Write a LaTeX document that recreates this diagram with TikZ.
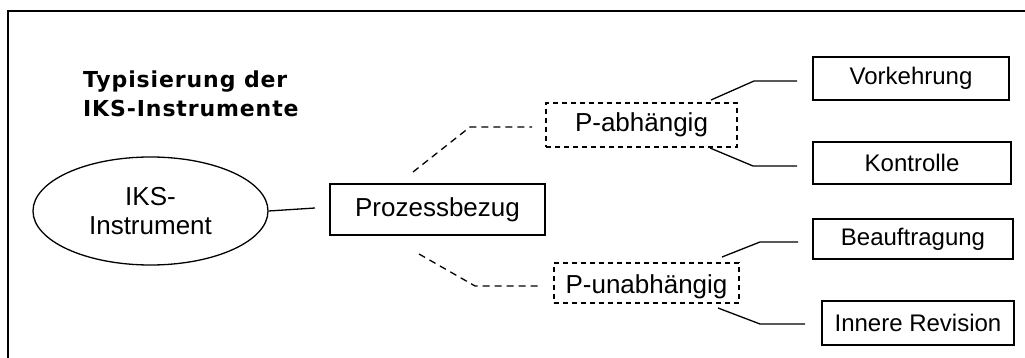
\documentclass[tikz,border=0pt]{standalone}
\usepackage{fontspec}
\setmainfont{Liberation Sans}
\newfontfamily\titlefont[LetterSpace=4]{DejaVu Sans}
\usetikzlibrary{shapes.geometric}
\begin{document}
\begin{tikzpicture}[x=1pt,y=-1pt,
  box/.style={draw,line width=1.3pt,inner sep=0pt},
  dbox/.style={draw,line width=1.3pt,dash pattern=on 5pt off 4pt,inner sep=0pt},
  link/.style={line width=1.3pt},
  dlink/.style={line width=1.3pt,dash pattern=on 7pt off 5pt}]
\useasboundingbox (0,0) rectangle (1025,358);
% open frame: only top and left edges
\draw[line width=2pt] (8,358) -- (8,11) -- (1025,11);
% title
\node[anchor=base west,align=left,inner sep=0pt,font=\titlefont\bfseries\fontsize{22}{29}\selectfont]
  (title) at (83,117) {Typisierung der\\IKS-Instrumente};
% main nodes
\node[draw,line width=1.3pt,ellipse,minimum width=235pt,minimum height=108pt,inner sep=0pt,
  align=center,font=\fontsize{26}{29}\selectfont] (iks) at (150.5,211) {IKS-\\Instrument};
\node[box,minimum width=215pt,minimum height=51pt,font=\fontsize{26}{29}\selectfont]
  (pb) at (437.5,209.5) {Prozessbezug};
\node[dbox,minimum width=191pt,minimum height=44pt,font=\fontsize{26}{29}\selectfont]
  (pa) at (641.5,125) {P-abhängig};
\node[dbox,minimum width=185pt,minimum height=40pt,font=\fontsize{26}{29}\selectfont,text depth=0pt]
  (pu) at (646.5,283) {\raisebox{-3pt}{P-unabhängig}};
% leaf nodes
\node[box,minimum width=196pt,minimum height=43pt,font=\fontsize{24}{28}\selectfont]
  (vk) at (911,78.5) {Vorkehrung};
\node[box,minimum width=198pt,minimum height=42pt,font=\fontsize{24}{28}\selectfont]
  (ko) at (912,163) {Kontrolle};
\node[box,minimum width=200pt,minimum height=40pt,font=\fontsize{24}{28}\selectfont]
  (be) at (913,239) {Beauftragung};
\node[box,minimum width=192pt,minimum height=44pt,font=\fontsize{24}{28}\selectfont]
  (ir) at (918,323) {Innere Revision};
% bend points of the connectors
\coordinate (c1) at (315,208);
\coordinate (a0) at (413,172); \coordinate (a1) at (470,127); \coordinate (a2) at (532,127);
\coordinate (u0) at (419,254); \coordinate (u1) at (475,286); \coordinate (u2) at (538,286);
\coordinate (v0) at (711,100); \coordinate (v1) at (754,81);  \coordinate (v2) at (797,81);
\coordinate (k0) at (710,148); \coordinate (k1) at (753,166); \coordinate (k2) at (797,166);
\coordinate (b0) at (722,257); \coordinate (b1) at (760,242); \coordinate (b2) at (798,242);
\coordinate (r0) at (718,308); \coordinate (r1) at (760,324); \coordinate (r2) at (805,324);
% connectors
\draw[link] (iks.east) -- (c1);
\draw[dlink] (a0) -- (a1) -- (a2);
\draw[dlink] (u0) -- (u1) -- (u2);
\draw[link] (v0) -- (v1) -- (v2);
\draw[link] (k0) -- (k1) -- (k2);
\draw[link] (b0) -- (b1) -- (b2);
\draw[link] (r0) -- (r1) -- (r2);
\end{tikzpicture}
\end{document}
